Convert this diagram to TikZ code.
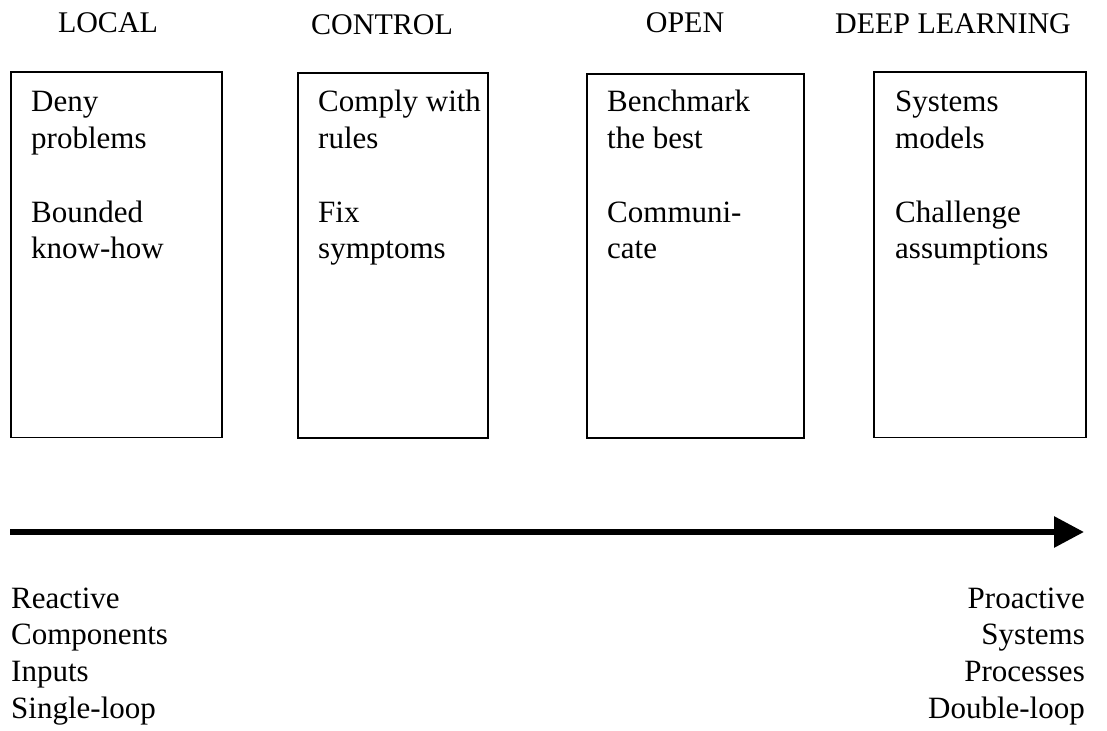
\documentclass[tikz,border=0pt]{standalone}
\usepackage{fontspec}
\setmainfont{Liberation Serif}
\usetikzlibrary{arrows.meta}
\newlength{\lsk}
\setlength{\lsk}{36.7pt}
\newcommand{\celltext}[1]{\parbox[t]{220pt}{\raggedright #1}}
\newcommand{\celltextr}[1]{\parbox[t]{220pt}{\raggedleft #1}}
\tikzset{
  bodyfont/.style={font=\fontsize{31}{36.7}\selectfont},
  titlefont/.style={font=\fontsize{30}{35}\selectfont},
  stagebox/.style={draw, line width=1.6pt, rectangle, inner sep=0pt, anchor=north west},
  title/.style={titlefont, inner sep=0pt, anchor=base},
  boxtext/.style={bodyfont, inner sep=0pt, anchor=base west},
  sidetext/.style={bodyfont, inner sep=0pt},
  bigarrow/.style={line width=6pt, -{Triangle[length=30pt, width=30pt]}},
}
\begin{document}
\begin{tikzpicture}[x=1pt, y=-1pt]
\useasboundingbox (0,0) rectangle (1107,730);
% titles
\node[title] (h1) at (108,33) {LOCAL};
\node[title] (h2) at (382,35) {CONTROL};
\node[title] (h3) at (685,33) {OPEN};
\node[title] (h4) at (953,34) {DEEP LEARNING};
% boxes
\node[stagebox, minimum width=211pt, minimum height=365pt] (b1) at (10,71.5) {};
\node[stagebox, minimum width=190pt, minimum height=365pt] (b2) at (297,72) {};
\node[stagebox, minimum width=217pt, minimum height=364pt] (b3) at (586,73) {};
\node[stagebox, minimum width=212pt, minimum height=365pt] (b4) at (873,71.5) {};
% box texts
\node[boxtext] (t1) at (31,112) {\celltext{Deny\\problems\\[\lsk]Bounded\\know-how}};
\node[boxtext] (t2) at (318,112) {\celltext{Comply with\\rules\\[\lsk]Fix\\symptoms}};
\node[boxtext] (t3) at (607,112) {\celltext{Benchmark\\the best\\[\lsk]Communi-\\cate}};
\node[boxtext] (t4) at (895,112) {\celltext{Systems\\models\\[\lsk]Challenge\\assumptions}};
% arrow
\coordinate (as) at (10,532);
\coordinate (ae) at (1084,532);
\draw[bigarrow] (as) -- (ae);
% bottom texts
\node[sidetext, anchor=base west] (left) at (11,608) {\celltext{Reactive\\Components\\Inputs\\Single-loop}};
\node[sidetext, anchor=base east] (right) at (1085,608) {\celltextr{Proactive\\Systems\\Processes\\Double-loop}};
\end{tikzpicture}
\end{document}
